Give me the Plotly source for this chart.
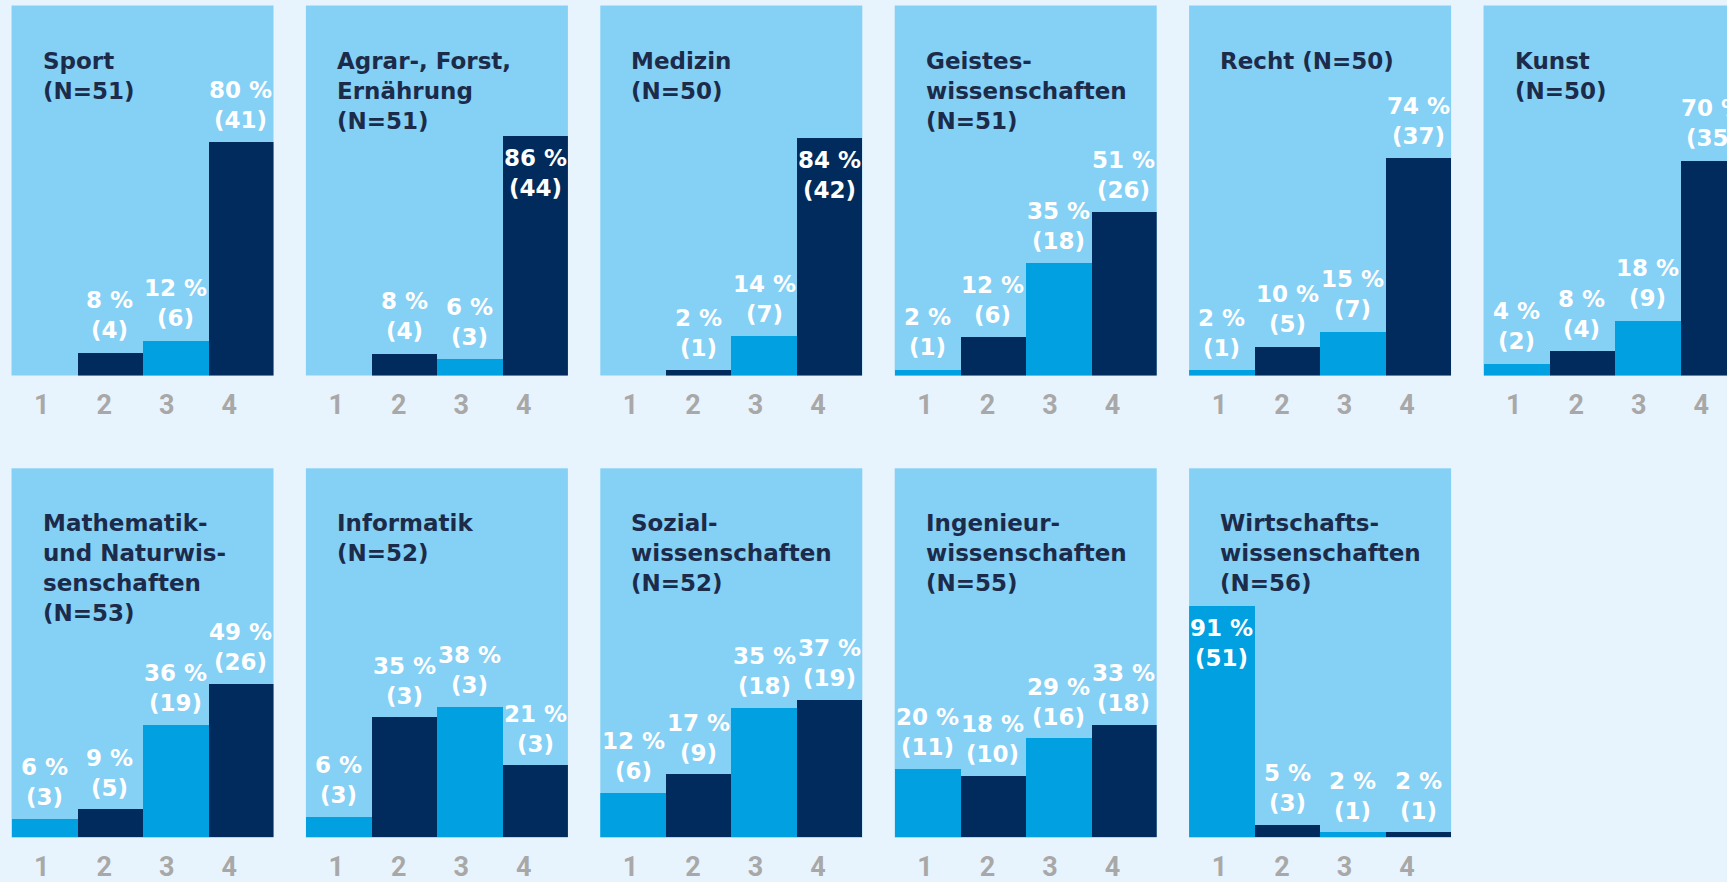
import plotly.graph_objects as go

# ---------------- data ----------------
categories = [1, 2, 3, 4]
tick_labels = ["1", "2", "3", "4"]

names = ["Sport", "Agrar-, Forst,<br>Ernährung", "Medizin", "Geistes-<br>wissenschaften",
         "Recht", "Kunst",
         "Mathematik-<br>und Naturwis-<br>senschaften", "Informatik", "Sozial-<br>wissenschaften",
         "Ingenieur-<br>wissenschaften", "Wirtschafts-<br>wissenschaften"]
n_total = [51, 51, 50, 51, 50, 50, 53, 52, 52, 55, 56]
name_sep = ["<br>", "<br>", "<br>", "<br>", " ", "<br>", "<br>", "<br>", "<br>", "<br>", "<br>"]

pct_sport = [0, 8, 12, 80]
cnt_sport = [0, 4, 6, 41]
pct_agrar = [0, 8, 6, 86]
cnt_agrar = [0, 4, 3, 44]
pct_medizin = [0, 2, 14, 84]
cnt_medizin = [0, 1, 7, 42]
pct_geistes = [2, 12, 35, 51]
cnt_geistes = [1, 6, 18, 26]
pct_recht = [2, 10, 15, 74]
cnt_recht = [1, 5, 7, 37]
pct_kunst = [4, 8, 18, 70]
cnt_kunst = [2, 4, 9, 35]
pct_mathe = [6, 9, 36, 49]
cnt_mathe = [3, 5, 19, 26]
pct_info = [6, 35, 38, 21]
cnt_info = [3, 3, 3, 3]
pct_sozial = [12, 17, 35, 37]
cnt_sozial = [6, 9, 18, 19]
pct_ing = [20, 18, 29, 33]
cnt_ing = [11, 10, 16, 18]
pct_wirt = [91, 5, 2, 2]
cnt_wirt = [51, 3, 1, 1]

pcts = [pct_sport, pct_agrar, pct_medizin, pct_geistes, pct_recht, pct_kunst,
        pct_mathe, pct_info, pct_sozial, pct_ing, pct_wirt]
cnts = [cnt_sport, cnt_agrar, cnt_medizin, cnt_geistes, cnt_recht, cnt_kunst,
        cnt_mathe, cnt_info, cnt_sozial, cnt_ing, cnt_wirt]

# ---------------- style / layout ----------------
W, H = 1727, 882
PAGE_BG = "#E8F4FD"
PANEL_BG = "#85D0F5"
NAVY = "#002B5C"
MID = "#00A0E1"
TITLE_C = "#1C2B4A"
TICK_C = "#A8A8A8"
bar_colors = [MID, NAVY, MID, NAVY]

PANEL_W = 262.0
PITCH_X = 294.4
LEFT0 = 11.5
ROW_TOP = [5.5, 468.3]
ROW_BOT = [375.5, 837.7]
TICK_OFF = 30.3      # first tick label from panel left
TICK_STEP = 62.5     # tick label spacing
INSIDE_MIN = 84      # labels placed inside the bar from this value on
# visual top of each panel's value axis (the original drawing is not on a common scale)
y_axis_top = [126.7, 132.8, 130.8, 115.1, 125.6, 120.4, 117.9, 107.7, 99.6, 108.0, 145.3]


def ax_id(letter, k):
    return letter if k == 1 else f"{letter}{k}"


def ax_key(letter, k):
    return f"{letter}axis" if k == 1 else f"{letter}axis{k}"


fig = go.Figure()
layout_axes = {}
annotations = []
n_panels = len(names)

for i in range(n_panels):
    row, col = divmod(i, 6)
    x0 = LEFT0 + col * PITCH_X
    x1 = x0 + PANEL_W
    vis_w = min(x1, W) - x0
    bar_unit = PANEL_W / 4.0
    xr_bar = [0.5, 0.5 + vis_w / bar_unit]
    t0 = 1 - TICK_OFF / TICK_STEP
    xr_tick = [t0, t0 + vis_w / TICK_STEP]
    dom_x = [x0 / W, min(x1, W) / W]
    dom_y = [1 - ROW_BOT[row] / H, 1 - ROW_TOP[row] / H]

    k = i + 1
    kt = n_panels + 1 + i
    xa = ax_id("x", k)
    ya = ax_id("y", k)
    xt = ax_id("x", kt)

    fig.add_trace(go.Bar(
        x=categories, y=pcts[i], width=1.0,
        marker=dict(color=bar_colors, line=dict(width=0)),
        xaxis=xa, yaxis=ya, hoverinfo="skip", showlegend=False,
    ))
    fig.add_trace(go.Scatter(
        x=categories, y=pcts[i], mode="markers", marker=dict(opacity=0),
        xaxis=xt, yaxis=ya, hoverinfo="skip", showlegend=False,
    ))

    layout_axes[ax_key("x", k)] = dict(domain=dom_x, range=xr_bar, anchor=ya,
                                       showticklabels=False, showgrid=False, zeroline=False,
                                       showline=False, ticks="", fixedrange=True)
    layout_axes[ax_key("y", k)] = dict(domain=dom_y, range=[0, y_axis_top[i]], anchor=xa,
                                       showticklabels=False, showgrid=False, zeroline=False,
                                       showline=False, ticks="", fixedrange=True)
    layout_axes[ax_key("x", kt)] = dict(overlaying=xa, anchor=ya, side="bottom", range=xr_tick,
                                        tickmode="array", tickvals=categories, ticktext=tick_labels,
                                        showgrid=False, zeroline=False, showline=False, ticks="",
                                        ticklabelstandoff=10,
                                        tickfont=dict(family="Roboto", size=27, color=TICK_C, weight="bold"),
                                        fixedrange=True)

    # panel title
    annotations.append(dict(
        text=f"{names[i]}{name_sep[i]}(N={n_total[i]})",
        xref=f"{xa} domain", yref=f"{ya} domain", x=0, y=1,
        xanchor="left", yanchor="top", xshift=29, yshift=-40, align="left",
        showarrow=False,
        font=dict(family="DejaVu Sans", size=23, color=TITLE_C, weight="bold"),
    ))
    # value labels
    for c, p, n in zip(categories, pcts[i], cnts[i]):
        if p <= 0:
            continue
        inside = p >= INSIDE_MIN
        annotations.append(dict(
            text=f"{p} %<br>({n})", xref=xa, yref=ya, x=c, y=p,
            xanchor="center", yanchor="top" if inside else "bottom",
            yshift=-7 if inside else 7, showarrow=False, align="center",
            font=dict(family="DejaVu Sans", size=23, color="white", weight="bold"),
        ))

fig.update_layout(
    width=W, height=H, margin=dict(l=0, r=0, t=0, b=0),
    paper_bgcolor=PAGE_BG, plot_bgcolor=PANEL_BG,
    showlegend=False, bargap=0, annotations=annotations,
    **layout_axes,
)

fig.write_html(
    "out.html",
    config={"displayModeBar": False},
    post_script="document.body.style.margin='0px';document.body.style.overflow='hidden';"
                "document.body.style.background='" + PAGE_BG + "';",
)
